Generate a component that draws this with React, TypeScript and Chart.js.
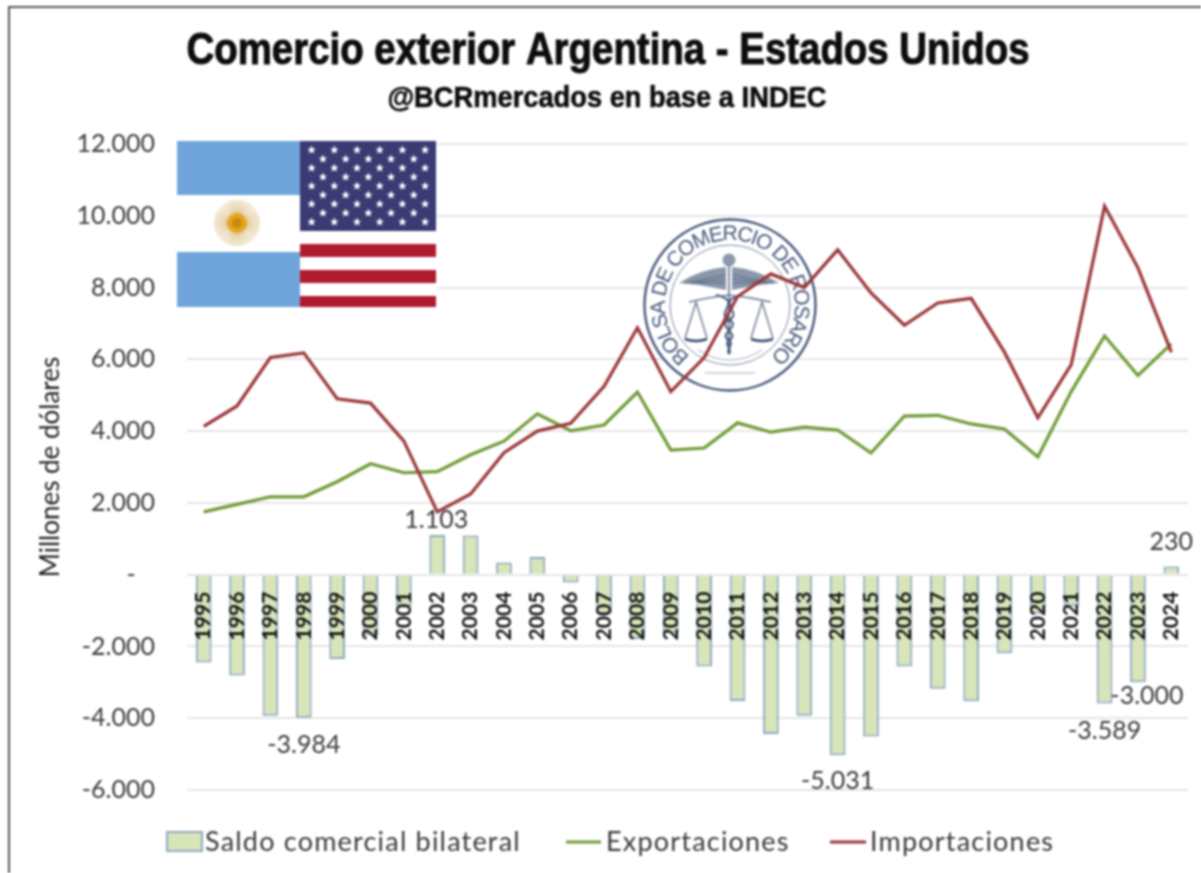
import React, { useEffect, useRef } from "react";
import { Chart, registerables } from "chart.js";

Chart.register(...registerables);

const years = ["1995","1996","1997","1998","1999","2000","2001","2002","2003","2004","2005","2006","2007","2008","2009","2010","2011","2012","2013","2014","2015","2016","2017","2018","2019","2020","2021","2022","2023","2024"];
const saldo = [-2450,-2810,-3930,-3984,-2350,-1690,-880,1103,1090,340,490,-220,-1080,-1790,-1630,-2560,-3520,-4440,-3930,-5031,-4510,-2560,-3180,-3530,-2190,-1090,-880,-3589,-3000,230];
const exportaciones = [1750,1960,2170,2170,2590,3090,2840,2870,3340,3720,4480,4010,4170,5090,3470,3530,4230,3970,4110,4030,3390,4420,4440,4200,4060,3280,5100,6650,5550,6430];
const importaciones = [4130,4700,6050,6180,4900,4780,3720,1750,2250,3400,4000,4220,5250,6880,5100,6050,7750,8380,8000,9050,7850,6950,7570,7700,6200,4370,5850,10270,8550,6200];

const labelYears = ["2002","1998","2014","2022","2023","2024"];
const labelOffsets = [[-1, -15], [0, 27], [0, 26], [0, 27], [9, 14], [0, -24]];

const legendLabels = ["Saldo comercial bilateral", "Exportaciones", "Importaciones"];
const titleText = "Comercio exterior Argentina - Estados Unidos";
const subtitleText = "@BCRmercados en base a INDEC";
const sealText = "BOLSA DE COMERCIO DE ROSARIO";

const GREEN = "#6f9a35";
const RED = "#9a3538";
const BAR_FILL = "#d8e5b8";
const BAR_EDGE = "#8fa9c2";
const TEXT = "#3a3a3a";
const FONT = "Lato";
const NAVY = "#46577a";

const fmt = (v: number) => String(Math.abs(v)).replace(/\B(?=(\d{3})+$)/g, ".");
const fmtSigned = (v: number) => (v === 0 ? "-   " : (v < 0 ? "-" : "") + fmt(v));

function star(ctx: CanvasRenderingContext2D, x: number, y: number, r: number) {
  ctx.beginPath();
  for (let i = 0; i < 10; i++) {
    const a = -Math.PI / 2 + (i * Math.PI) / 5;
    const q = i % 2 ? r * 0.45 : r;
    ctx.lineTo(x + Math.cos(a) * q, y + Math.sin(a) * q);
  }
  ctx.closePath();
  ctx.fill();
}

function drawFlags(ctx: CanvasRenderingContext2D) {
  ctx.save();
  ctx.fillStyle = "#fff";
  ctx.fillRect(177, 141, 260, 167);
  ctx.fillStyle = "#6fa5da";
  ctx.fillRect(177, 141, 123, 54);
  ctx.fillRect(177, 252, 123, 55);
  // sun
  ctx.strokeStyle = "#d8b474";
  ctx.lineWidth = 1;
  for (let i = 0; i < 48; i++) {
    const a = (i * Math.PI) / 24;
    ctx.beginPath();
    ctx.moveTo(237 + Math.cos(a) * 9, 223 + Math.sin(a) * 9);
    ctx.lineTo(237 + Math.cos(a) * 23, 223 + Math.sin(a) * 23);
    ctx.stroke();
  }
  ctx.fillStyle = "#e5a51c";
  ctx.beginPath();
  ctx.arc(237, 223, 10, 0, Math.PI * 2);
  ctx.fill();
  ctx.fillStyle = "#c98a12";
  ctx.beginPath();
  ctx.arc(237, 223, 5, 0, Math.PI * 2);
  ctx.fill();
  // US
  ctx.fillStyle = "#3a3b73";
  ctx.fillRect(300, 141, 136, 90);
  ctx.fillStyle = "#fff";
  for (let r = 0; r < 9; r++) {
    const odd = r % 2 === 1;
    const n = odd ? 5 : 6;
    for (let c = 0; c < n; c++) {
      star(ctx, 311.6 + c * 22.7 + (odd ? 11.35 : 0), 150 + r * 9, 4.4);
    }
  }
  ctx.fillStyle = "#ae1c2e";
  ctx.fillRect(300, 244, 136, 13);
  ctx.fillRect(300, 270, 136, 13);
  ctx.fillRect(300, 296, 136, 11);
  ctx.restore();
}

function drawSeal(ctx: CanvasRenderingContext2D) {
  const cx = 730, cy = 305;
  ctx.save();
  ctx.fillStyle = "#fff";
  ctx.beginPath();
  ctx.arc(cx, cy, 87, 0, Math.PI * 2);
  ctx.fill();
  ctx.strokeStyle = NAVY;
  ctx.lineWidth = 2.4;
  ctx.beginPath();
  ctx.arc(cx, cy, 85.5, 0, Math.PI * 2);
  ctx.stroke();
  ctx.lineWidth = 1;
  ctx.strokeStyle = "#7c899f";
  ctx.beginPath();
  ctx.arc(cx, cy, 60, 0, Math.PI * 2);
  ctx.stroke();
  // lettering
  ctx.fillStyle = NAVY;
  ctx.font = "21px 'Liberation Sans'";
  ctx.textAlign = "left";
  ctx.textBaseline = "alphabetic";
  const radius = 65;
  const gaps = sealText.split("").map((ch) => ctx.measureText(ch).width);
  const total = gaps.reduce((a, b) => a + b, 0);
  const start = (-142 * Math.PI) / 180;
  const span = (284 * Math.PI) / 180;
  const extra = (span * radius - total) / (sealText.length - 1);
  let arc = 0;
  sealText.split("").forEach((ch, i) => {
    const a = start + (arc + gaps[i] / 2) / radius;
    ctx.save();
    ctx.translate(cx + Math.sin(a) * radius, cy - Math.cos(a) * radius);
    ctx.rotate(a);
    ctx.fillText(ch, -gaps[i] / 2, 0);
    ctx.restore();
    arc += gaps[i] + extra;
  });
  // wings
  [-1, 1].forEach((s) => {
    ctx.fillStyle = "#8a97aa";
    ctx.beginPath();
    ctx.moveTo(cx - 1 + s * 3, cy - 38);
    ctx.quadraticCurveTo(cx - 1 + s * 28, cy - 36, cx - 1 + s * 50, cy - 22);
    ctx.lineTo(cx - 1 + s * 30, cy - 20);
    ctx.lineTo(cx - 1 + s * 3, cy - 15);
    ctx.closePath();
    ctx.fill();
    ctx.strokeStyle = "#5d6b84";
    ctx.lineWidth = 1;
    [-30, -26, -22].forEach((dy, k) => {
      ctx.beginPath();
      ctx.moveTo(cx - 1 + s * 4, cy + dy);
      ctx.lineTo(cx - 1 + s * (44 - k * 6), cy - 22);
      ctx.stroke();
    });
  });
  // head and staff
  ctx.fillStyle = "#8b97aa";
  ctx.beginPath();
  ctx.arc(cx - 1, cy - 45, 6.5, 0, Math.PI * 2);
  ctx.fill();
  ctx.strokeStyle = "#7c899f";
  ctx.lineWidth = 2;
  ctx.beginPath();
  ctx.moveTo(cx - 1, cy - 40);
  ctx.lineTo(cx - 1, cy + 48);
  ctx.stroke();
  // serpents
  ctx.strokeStyle = NAVY;
  ctx.lineWidth = 2;
  [1, -1].forEach((s) => {
    ctx.beginPath();
    ctx.moveTo(cx - 1 - s * 13, cy - 10);
    ctx.bezierCurveTo(cx - 1 + s * 15, cy - 4, cx - 1 - s * 15, cy + 8, cx - 1, cy + 15);
    ctx.bezierCurveTo(cx - 1 + s * 13, cy + 21, cx - 1 - s * 12, cy + 29, cx - 1, cy + 35);
    ctx.bezierCurveTo(cx - 1 + s * 6, cy + 39, cx - 1 - s * 4, cy + 44, cx - 1, cy + 49);
    ctx.stroke();
  });
  // balance beam and pans
  ctx.strokeStyle = "#6d7b92";
  ctx.lineWidth = 1.4;
  ctx.beginPath();
  ctx.moveTo(cx - 41, cy - 3);
  ctx.quadraticCurveTo(cx - 20, cy - 8, cx - 1, cy - 10);
  ctx.quadraticCurveTo(cx + 20, cy - 8, cx + 41, cy - 3);
  ctx.stroke();
  [-33, 33].forEach((dx) => {
    const px = cx - 1 + dx;
    ctx.strokeStyle = "#6d7b92";
    ctx.lineWidth = 1.4;
    ctx.beginPath();
    ctx.moveTo(px - 11, cy + 33);
    ctx.lineTo(px, cy - 3);
    ctx.lineTo(px + 11, cy + 33);
    ctx.stroke();
    ctx.strokeStyle = "#34466f";
    ctx.lineWidth = 2.6;
    ctx.beginPath();
    ctx.moveTo(px - 11, cy + 34);
    ctx.quadraticCurveTo(px, cy + 38, px + 11, cy + 34);
    ctx.stroke();
  });
  // small motto at the foot of the seal
  ctx.strokeStyle = "#a3adbd";
  ctx.lineWidth = 1;
  ctx.beginPath();
  ctx.arc(cx, cy, 55, Math.PI * 0.3, Math.PI * 0.7);
  ctx.stroke();
  ctx.beginPath();
  ctx.moveTo(cx - 25, cy + 68);
  ctx.lineTo(cx + 25, cy + 68);
  ctx.stroke();
  ctx.restore();
}

function fitText(ctx: CanvasRenderingContext2D, text: string, font: string, cx: number, baseline: number, width: number, heft: number) {
  ctx.save();
  ctx.font = font;
  const k = width / ctx.measureText(text).width;
  ctx.translate(cx, baseline);
  ctx.scale(k, 1);
  ctx.textAlign = "center";
  ctx.textBaseline = "alphabetic";
  ctx.fillStyle = "#0c0c0c";
  ctx.strokeStyle = "#0c0c0c";
  ctx.lineWidth = heft;
  ctx.lineJoin = "round";
  ctx.strokeText(text, 0, 0);
  ctx.fillText(text, 0, 0);
  ctx.restore();
}

const decorations = {
  id: "decorations",
  beforeDraw(chart: any) {
    const ctx = chart.ctx;
    ctx.save();
    ctx.fillStyle = "#fff";
    ctx.fillRect(0, 0, 1201, 873);
    ctx.fillStyle = "#555";
    ctx.fillRect(8, 6, 1193, 2);
    ctx.fillRect(8, 6, 2, 867);
    ctx.restore();
    fitText(ctx, titleText, "bold 44px 'Liberation Sans'", 608, 64, 843, 1);
    fitText(ctx, subtitleText, "bold 30px 'Liberation Sans'", 607, 107, 439, 0.6);
  },
  beforeDatasetsDraw(chart: any) {
    drawFlags(chart.ctx);
    drawSeal(chart.ctx);
  },
};

const valueLabels = {
  id: "valueLabels",
  afterDatasetsDraw(chart: any) {
    const ctx = chart.ctx;
    const x = chart.scales.x;
    const y = chart.scales.y;
    ctx.save();
    ctx.fillStyle = TEXT;
    ctx.font = `25px ${FONT}`;
    ctx.textAlign = "center";
    ctx.textBaseline = "middle";
    labelYears.forEach((yr, i) => {
      const idx = years.indexOf(yr);
      const v = saldo[idx];
      ctx.fillText(
        v < 0 ? "-" + fmt(v) : fmt(v),
        x.getPixelForValue(idx) + labelOffsets[i][0],
        y.getPixelForValue(v) + labelOffsets[i][1]
      );
    });
    ctx.restore();
  },
};

const legendPlugin = {
  id: "bottomLegend",
  afterDraw(chart: any) {
    const ctx = chart.ctx;
    const yMid = 842;
    ctx.save();
    ctx.fillStyle = chart.data.datasets[0].backgroundColor;
    ctx.strokeStyle = chart.data.datasets[0].borderColor;
    ctx.lineWidth = 2;
    ctx.fillRect(167, 832, 35, 19);
    ctx.strokeRect(167, 832, 35, 19);
    ctx.lineWidth = 3;
    ctx.strokeStyle = chart.data.datasets[1].borderColor;
    ctx.beginPath();
    ctx.moveTo(566, yMid);
    ctx.lineTo(601, yMid);
    ctx.stroke();
    ctx.strokeStyle = chart.data.datasets[2].borderColor;
    ctx.beginPath();
    ctx.moveTo(830, yMid);
    ctx.lineTo(866, yMid);
    ctx.stroke();
    ctx.fillStyle = TEXT;
    ctx.font = `27px ${FONT}`;
    ctx.textAlign = "left";
    ctx.textBaseline = "middle";
    (ctx as any).letterSpacing = "1.2px";
    ctx.fillText(legendLabels[0], 205, yMid);
    ctx.fillText(legendLabels[1], 606, yMid);
    ctx.fillText(legendLabels[2], 870, yMid);
    ctx.restore();
  },
};

export default function App() {
  const ref = useRef<HTMLCanvasElement>(null);
  useEffect(() => {
    const chart = new Chart(ref.current as HTMLCanvasElement, {
      type: "bar",
      data: {
        labels: years,
        datasets: [
          {
            type: "bar",
            label: legendLabels[0],
            data: saldo,
            backgroundColor: BAR_FILL,
            borderColor: BAR_EDGE,
            borderWidth: 2,
            barPercentage: 0.47,
            categoryPercentage: 1,
            order: 3,
          },
          {
            type: "line",
            label: legendLabels[1],
            data: exportaciones,
            borderColor: GREEN,
            backgroundColor: GREEN,
            borderWidth: 3.2,
            pointRadius: 0,
            tension: 0,
            order: 2,
          },
          {
            type: "line",
            label: legendLabels[2],
            data: importaciones,
            borderColor: RED,
            backgroundColor: RED,
            borderWidth: 3.2,
            pointRadius: 0,
            tension: 0,
            order: 1,
          },
        ],
      },
      options: {
        responsive: false,
        animation: false,
        layout: { autoPadding: false, padding: { left: 28, right: 13, top: 144, bottom: 83 } },
        plugins: {
          legend: { display: false },
          tooltip: { enabled: false },
          title: { display: false },
          subtitle: { display: false },
        },
        scales: {
          x: {
            position: { y: 0 },
            afterFit(scale: any) {
              scale.paddingLeft = 0;
              scale.paddingRight = 0;
            },
            grid: { display: false },
            border: { display: false },
            ticks: {
              z: 1,
              autoSkip: false,
              minRotation: 90,
              maxRotation: 90,
              padding: 9,
              color: "#111",
              font: { family: FONT, size: 21, weight: "bold" },
            },
          },
          y: {
            min: -6000,
            max: 12000,
            afterFit(scale: any) {
              scale.width = 159;
            },
            grid: { color: "#e6e6e6", lineWidth: 2, drawTicks: false },
            border: { display: false },
            ticks: {
              stepSize: 2000,
              padding: 32,
              color: TEXT,
              font: { family: FONT, size: 25 },
              callback: (v: any) => fmtSigned(Number(v)),
            },
            title: {
              display: true,
              text: "Millones de dólares",
              color: "#222",
              font: { family: FONT, size: 26 },
              padding: { top: 7, bottom: 0 },
            },
          },
        },
      },
      plugins: [decorations, valueLabels, legendPlugin],
    } as any);
    return () => chart.destroy();
  }, []);
  return (
    <div style={{ position: "fixed", left: 0, top: 0, width: 1201, height: 873, background: "#fff" }}>
      <canvas ref={ref} width={1201} height={873} style={{ display: "block", filter: "blur(0.8px)" }} />
    </div>
  );
}
